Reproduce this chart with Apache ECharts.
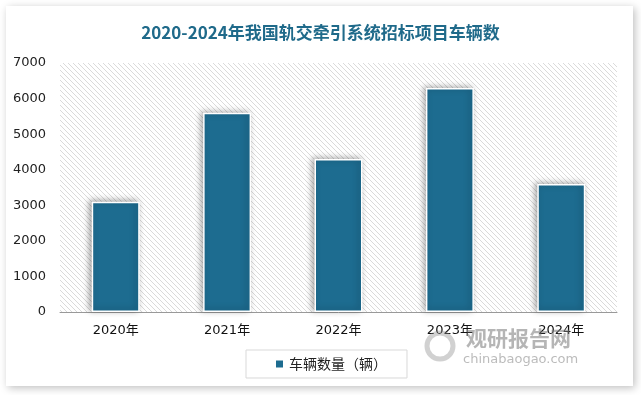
<!DOCTYPE html>
<html>
<head>
<meta charset="utf-8">
<script src="https://cdn.jsdelivr.net/npm/echarts@6/dist/echarts.min.js"></script>
<style>
html,body{margin:0;padding:0;background:#fff;}
#c{width:641px;height:395px;}
</style>
</head>
<body>
<div id="c"></div>
<script>
const categories = ['2020年', '2021年', '2022年', '2023年', '2024年'];
const vehicleCounts = [3100, 5600, 4300, 6300, 3600];
const seriesName = '车辆数量（辆）';
const titleText = '2020-2024年我国轨交牵引系统招标项目车辆数';
const watermarkMain = '观研报告网';
const watermarkSub = 'chinabaogao.com';

// crisp diagonal hatch pattern
const S = 5;
const pc = document.createElement('canvas');
pc.width = S; pc.height = S;
const ctx = pc.getContext('2d');
ctx.fillStyle = '#ffffff';
ctx.fillRect(0, 0, S, S);
ctx.fillStyle = '#dadada';
for (let i = 0; i < S; i++) ctx.fillRect(i, i, 1, 1);

const chart = echarts.init(document.getElementById('c'), null, {renderer: 'canvas'});
const cjk = '"DejaVu Sans", "Noto Sans CJK SC", sans-serif';
chart.setOption({
  animation: false,
  backgroundColor: '#ffffff',
  graphic: [{
    type: 'rect', z: -10, silent: true,
    shape: {x: 6, y: 6, width: 627, height: 380},
    style: {fill: '#ffffff', shadowBlur: 8, shadowColor: 'rgba(0,0,0,0.25)', shadowOffsetX: 2, shadowOffsetY: 2}
  }, {
    type: 'text', z: 100, silent: true, left: 466, top: 328,
    style: {text: watermarkMain, font: 'bold 21px "Noto Sans CJK SC", sans-serif', fill: 'rgba(120,120,120,0.55)'}
  }, {
    type: 'text', z: 100, silent: true, left: 463, top: 353,
    style: {text: watermarkSub, font: '13px "DejaVu Sans", sans-serif', fill: 'rgba(120,120,120,0.5)'}
  }, {
    type: 'circle', z: 100, silent: true,
    shape: {cx: 440, cy: 346, r: 13},
    style: {fill: 'none', stroke: 'rgba(140,140,140,0.4)', lineWidth: 5}
  }],
  title: {
    text: titleText,
    left: 'center', top: 19,
    textStyle: {fontFamily: '"Noto Sans CJK SC", sans-serif', fontSize: 17, fontWeight: 'bold', color: '#1f6a8a'}
  },
  legend: {
    data: [seriesName],
    left: 246, top: 350, width: 168, height: 32,
    padding: [7, 20, 7, 28],
    borderColor: '#d9d9d9', borderWidth: 1,
    itemWidth: 9, itemHeight: 9,
    icon: 'rect',
    textStyle: {fontFamily: '"Noto Sans CJK SC", sans-serif', fontSize: 14, color: '#222'}
  },
  grid: {
    left: 60, right: 24, top: 63, bottom: 83,
    show: true, borderWidth: 0,
    backgroundColor: {image: pc, repeat: 'repeat'}
  },
  xAxis: {
    type: 'category',
    data: categories,
    axisLine: {lineStyle: {color: '#999', width: 1}},
    axisTick: {show: false},
    axisLabel: {fontFamily: cjk, fontSize: 13, color: '#111', margin: 12}
  },
  yAxis: {
    type: 'value',
    min: 0, max: 7000, interval: 1000,
    axisLine: {show: false},
    axisTick: {show: false},
    splitLine: {show: false},
    axisLabel: {fontFamily: cjk, fontSize: 13, color: '#222', margin: 14, formatter: v => String(v)}
  },
  series: [{
    name: seriesName,
    type: 'bar',
    data: vehicleCounts,
    barWidth: 48,
    itemStyle: {
      color: '#1d6c90',
      borderColor: '#ffffff', borderWidth: 1.5,
      shadowBlur: 6, shadowColor: 'rgba(0,0,0,0.35)', shadowOffsetX: -2, shadowOffsetY: -1
    }
  }]
});
</script>
</body>
</html>
